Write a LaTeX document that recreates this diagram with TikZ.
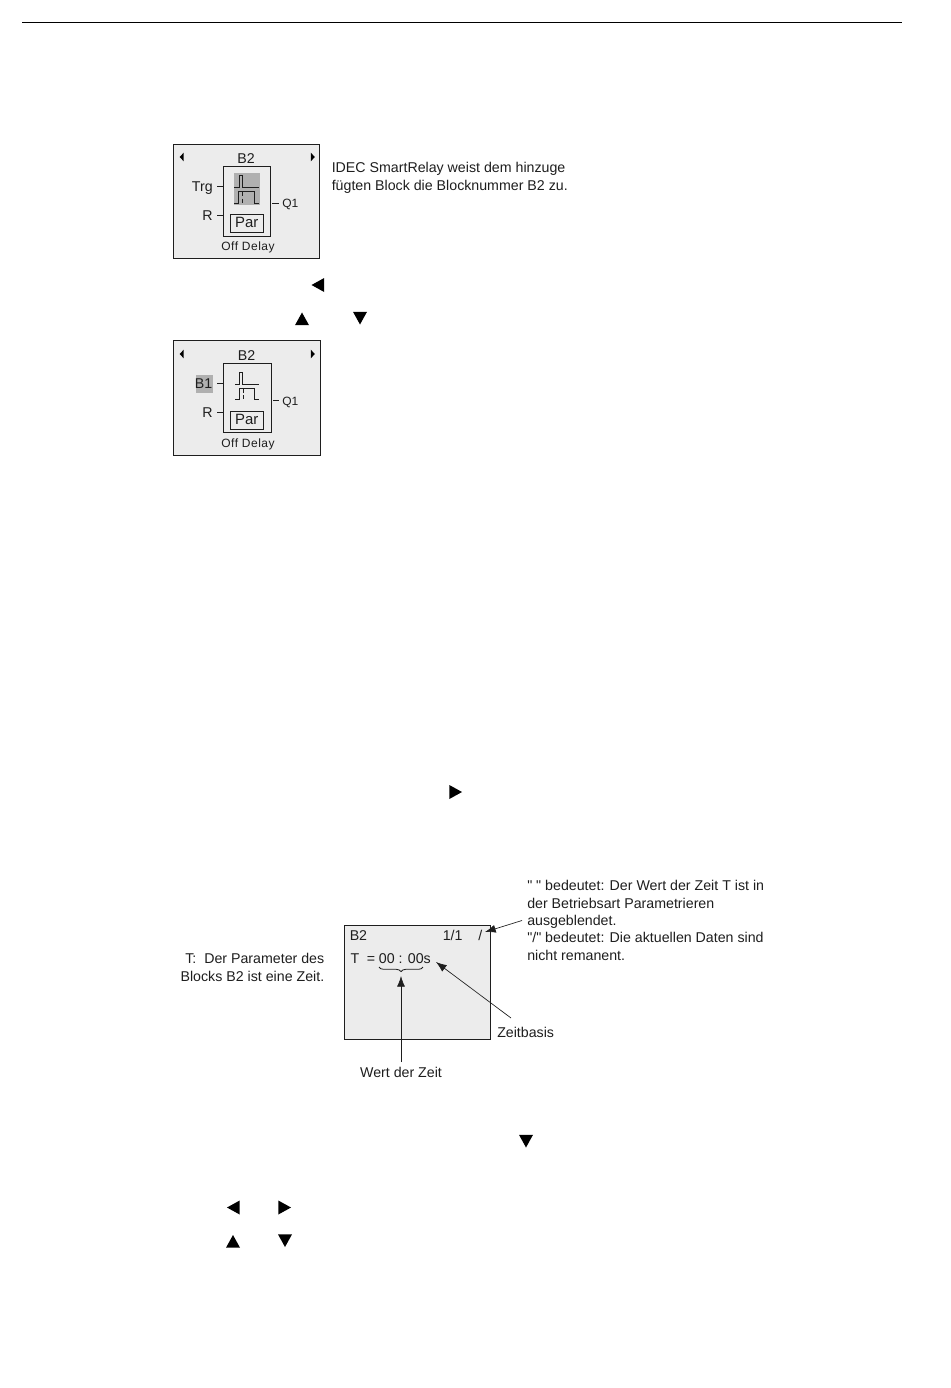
\documentclass[tikz,border=0pt]{standalone}
\usepackage{xcolor}
\usepackage{fontspec}
\newfontfamily\sansfam{Liberation Sans}
\usetikzlibrary{shapes.geometric, arrows.meta, positioning, calc, decorations.pathreplacing}
\definecolor{mydark}{RGB}{30,30,30}
\definecolor{lcdgrey}{RGB}{236,236,236}
\definecolor{markgrey}{RGB}{176,176,176}
\tikzset{
  lcdframe/.style={rectangle, draw=mydark, fill=lcdgrey, line width=0.7pt},
  symframe/.style={rectangle, draw=mydark, line width=0.7pt},
  marked/.style={fill=markgrey},
  txt/.style={inner sep=0pt, text=mydark, font=\fontsize{10.65}{13}\sansfam},
  partxt/.style={inner sep=0pt, text=mydark, font=\fontsize{11.2}{13}\sansfam},
  smalltxt/.style={inner sep=0pt, text=mydark, font=\fontsize{9}{11}\sansfam},
  note/.style={txt, align=left, anchor=base west},
  wave/.style={line width=0.7pt, color=mydark},
  tick/.style={line width=0.6pt, color=mydark},
  callout/.style={-{Latex[length=8pt,width=6pt]}, line width=0.5pt, color=mydark},
  tri/.style={isosceles triangle, isosceles triangle stretches, fill=black,
    inner sep=0pt, anchor=center},
  btn/.style={tri, minimum height=9.5pt, minimum width=10.5pt},
  btnleft/.style={btn, shape border rotate=180, xshift=1.9pt},
  btnright/.style={btn, shape border rotate=0, xshift=-1.9pt},
  btnup/.style={btn, shape border rotate=90, yshift=-1.9pt},
  btndown/.style={btn, shape border rotate=270, yshift=1.9pt},
  navleft/.style={tri, shape border rotate=180, minimum height=3pt, minimum width=6.5pt},
  navright/.style={tri, shape border rotate=0, minimum height=3pt, minimum width=6.5pt}
}
\begin{document}
\begin{tikzpicture}[x=0.75pt, y=-0.75pt]
  \useasboundingbox (0,0) rectangle (950,1388);
  % Top rule
  \coordinate (ruleL) at (22,22.5);
  \coordinate (ruleR) at (902,22.5);
  \draw[line width=0.7pt, color=black] (ruleL) -- (ruleR);

  % First block display
  \draw[lcdframe] (173.5,144.5) rectangle (319.5,258.5);
  \draw[symframe] (223.5,166.5) rectangle (270.5,236.5);
  \fill[marked] (234,173) rectangle (260,205);
  \draw[wave] (234.3,187.3) -- (239,187.3) -- (239,175) -- (242.3,175) -- (242.3,187.3) -- (259,187.3);
  \draw[wave] (234.3,203.3) -- (238,203.3) -- (238,191.7) -- (254.3,191.7) -- (254.3,203.3) -- (259,203.3);
  \draw[wave, densely dashed] (242.3,192) -- (242.3,203);
  \draw[symframe] (230.5,214.5) rectangle (263,232.5);
  \node[navleft] (aL) at (182,157) {};
  \node[navright] (aR) at (312.5,157) {};
  \node[txt, anchor=base] (aName) at (246,163.5) {B2};
  \node[txt, anchor=base east] (aTrg) at (213,191) {Trg};
  \node[txt, anchor=base east] (aRes) at (213,220) {R};
  \node[partxt, anchor=base] (aPar) at (246.7,227.5) {Par};
  \node[smalltxt, anchor=base west] (aQ) at (282,207.7) {Q1};
  \node[smalltxt, anchor=base] (aOff) at (248,250) {\addfontfeature{LetterSpace=4}Off Delay};
  \draw[tick] (217,186) -- (223.5,186);
  \draw[tick] (217,215) -- (223.5,215);
  \draw[tick] (272,203.5) -- (279,203.5);
  \node[note] (addNote) at (331.5,190) {IDEC SmartRelay weist dem hinzuge\\fügten Block die Blocknummer B2 zu.};

  % Buttons between the displays
  \node[btnleft] (keyA) at (317.5,285) {};
  \node[btnup] (keyB) at (302,318.5) {};
  \node[btndown] (keyC) at (360,318.5) {};

  % Second block display
  \draw[lcdframe] (173.5,340.5) rectangle (320.5,455.5);
  \draw[symframe] (223.5,363.5) rectangle (271.5,432.5);
  \draw[wave] (235,384.3) -- (239,384.3) -- (239,372.7) -- (242.3,372.7) -- (242.3,384.3) -- (259,384.3);
  \draw[wave] (235,399.5) -- (239,399.5) -- (239,388) -- (254.3,388) -- (254.3,399.5) -- (259,399.5);
  \draw[wave, densely dashed] (243,388.5) -- (243,399.5);
  \draw[symframe] (230.5,411.5) rectangle (263,429.5);
  \fill[marked] (196,375) rectangle (213,393);
  \node[navleft] (bL) at (182,354) {};
  \node[navright] (bR) at (312.5,354) {};
  \node[txt, anchor=base] (bName) at (246.5,360) {B2};
  \node[txt, anchor=base east] (bTrg) at (212.5,388) {B1};
  \node[txt, anchor=base east] (bRes) at (213,417) {R};
  \node[partxt, anchor=base] (bPar) at (246.7,424.5) {Par};
  \node[smalltxt, anchor=base west] (bQ) at (282,405) {Q1};
  \node[smalltxt, anchor=base] (bOff) at (248,447) {\addfontfeature{LetterSpace=4}Off Delay};
  \draw[tick] (217,383) -- (223.5,383);
  \draw[tick] (217,412) -- (223.5,412);
  \draw[tick] (273,400.5) -- (279,400.5);

  \node[btnright] (keyD) at (456,792) {};

  % Parameter display
  \draw[lcdframe] (344.7,925.7) rectangle (490.7,1039.3);
  \node[txt, anchor=base west] (lcdName) at (349.5,940.7) {B2};
  \node[txt, anchor=base west] (lcdPage) at (442.5,940.7) {1/1};
  \node[txt, anchor=base west] (lcdSlash) at (478,940.7) {/};
  \node[txt, anchor=base west] (lcdT) at (350.3,963) {T};
  \node[txt, anchor=base west] (lcdVal) at (366.5,963) {= 00 : 00s};
  \coordinate (braceL) at (379,967);
  \coordinate (braceR) at (423,967);
  \coordinate (braceTip) at (401,976);
  \coordinate (slashPt) at (485,932);
  \coordinate (basePt) at (436,962);
  \draw[line width=0.6pt, color=mydark, decorate, decoration={brace, mirror, amplitude=3.5pt}] (braceL) -- (braceR);

  % Labels round the display
  \node[note] (flagNote) at (527,960) {" " bedeutet: Der Wert der Zeit T ist in\\der Betriebsart Parametrieren\\ausgeblendet.\\"/" bedeutet: Die aktuellen Daten sind\\nicht remanent.};
  \node[txt, align=right, anchor=base east] (tNote) at (324.5,981) {T:\ \ Der Parameter des\\Blocks B2 ist eine Zeit.};
  \node[txt, anchor=base west] (baseNote) at (497,1037) {Zeitbasis};
  \node[txt, anchor=base] (valNote) at (401,1077.2) {Wert der Zeit};
  \coordinate (flagFrom) at (522,920.5);
  \coordinate (baseFrom) at (511,1018);
  \draw[callout] (flagFrom) -- (slashPt);
  \draw[callout] (baseFrom) -- (basePt);
  \draw[callout] (valNote.north |- 0,1062) -- (braceTip);

  % Buttons at the bottom
  \node[btndown] (keyE) at (526,1141.5) {};
  \node[btnleft] (keyF) at (233,1207.5) {};
  \node[btnright] (keyG) at (285,1207.5) {};
  \node[btnup] (keyH) at (233,1241) {};
  \node[btndown] (keyI) at (285,1241) {};
\end{tikzpicture}
\end{document}
